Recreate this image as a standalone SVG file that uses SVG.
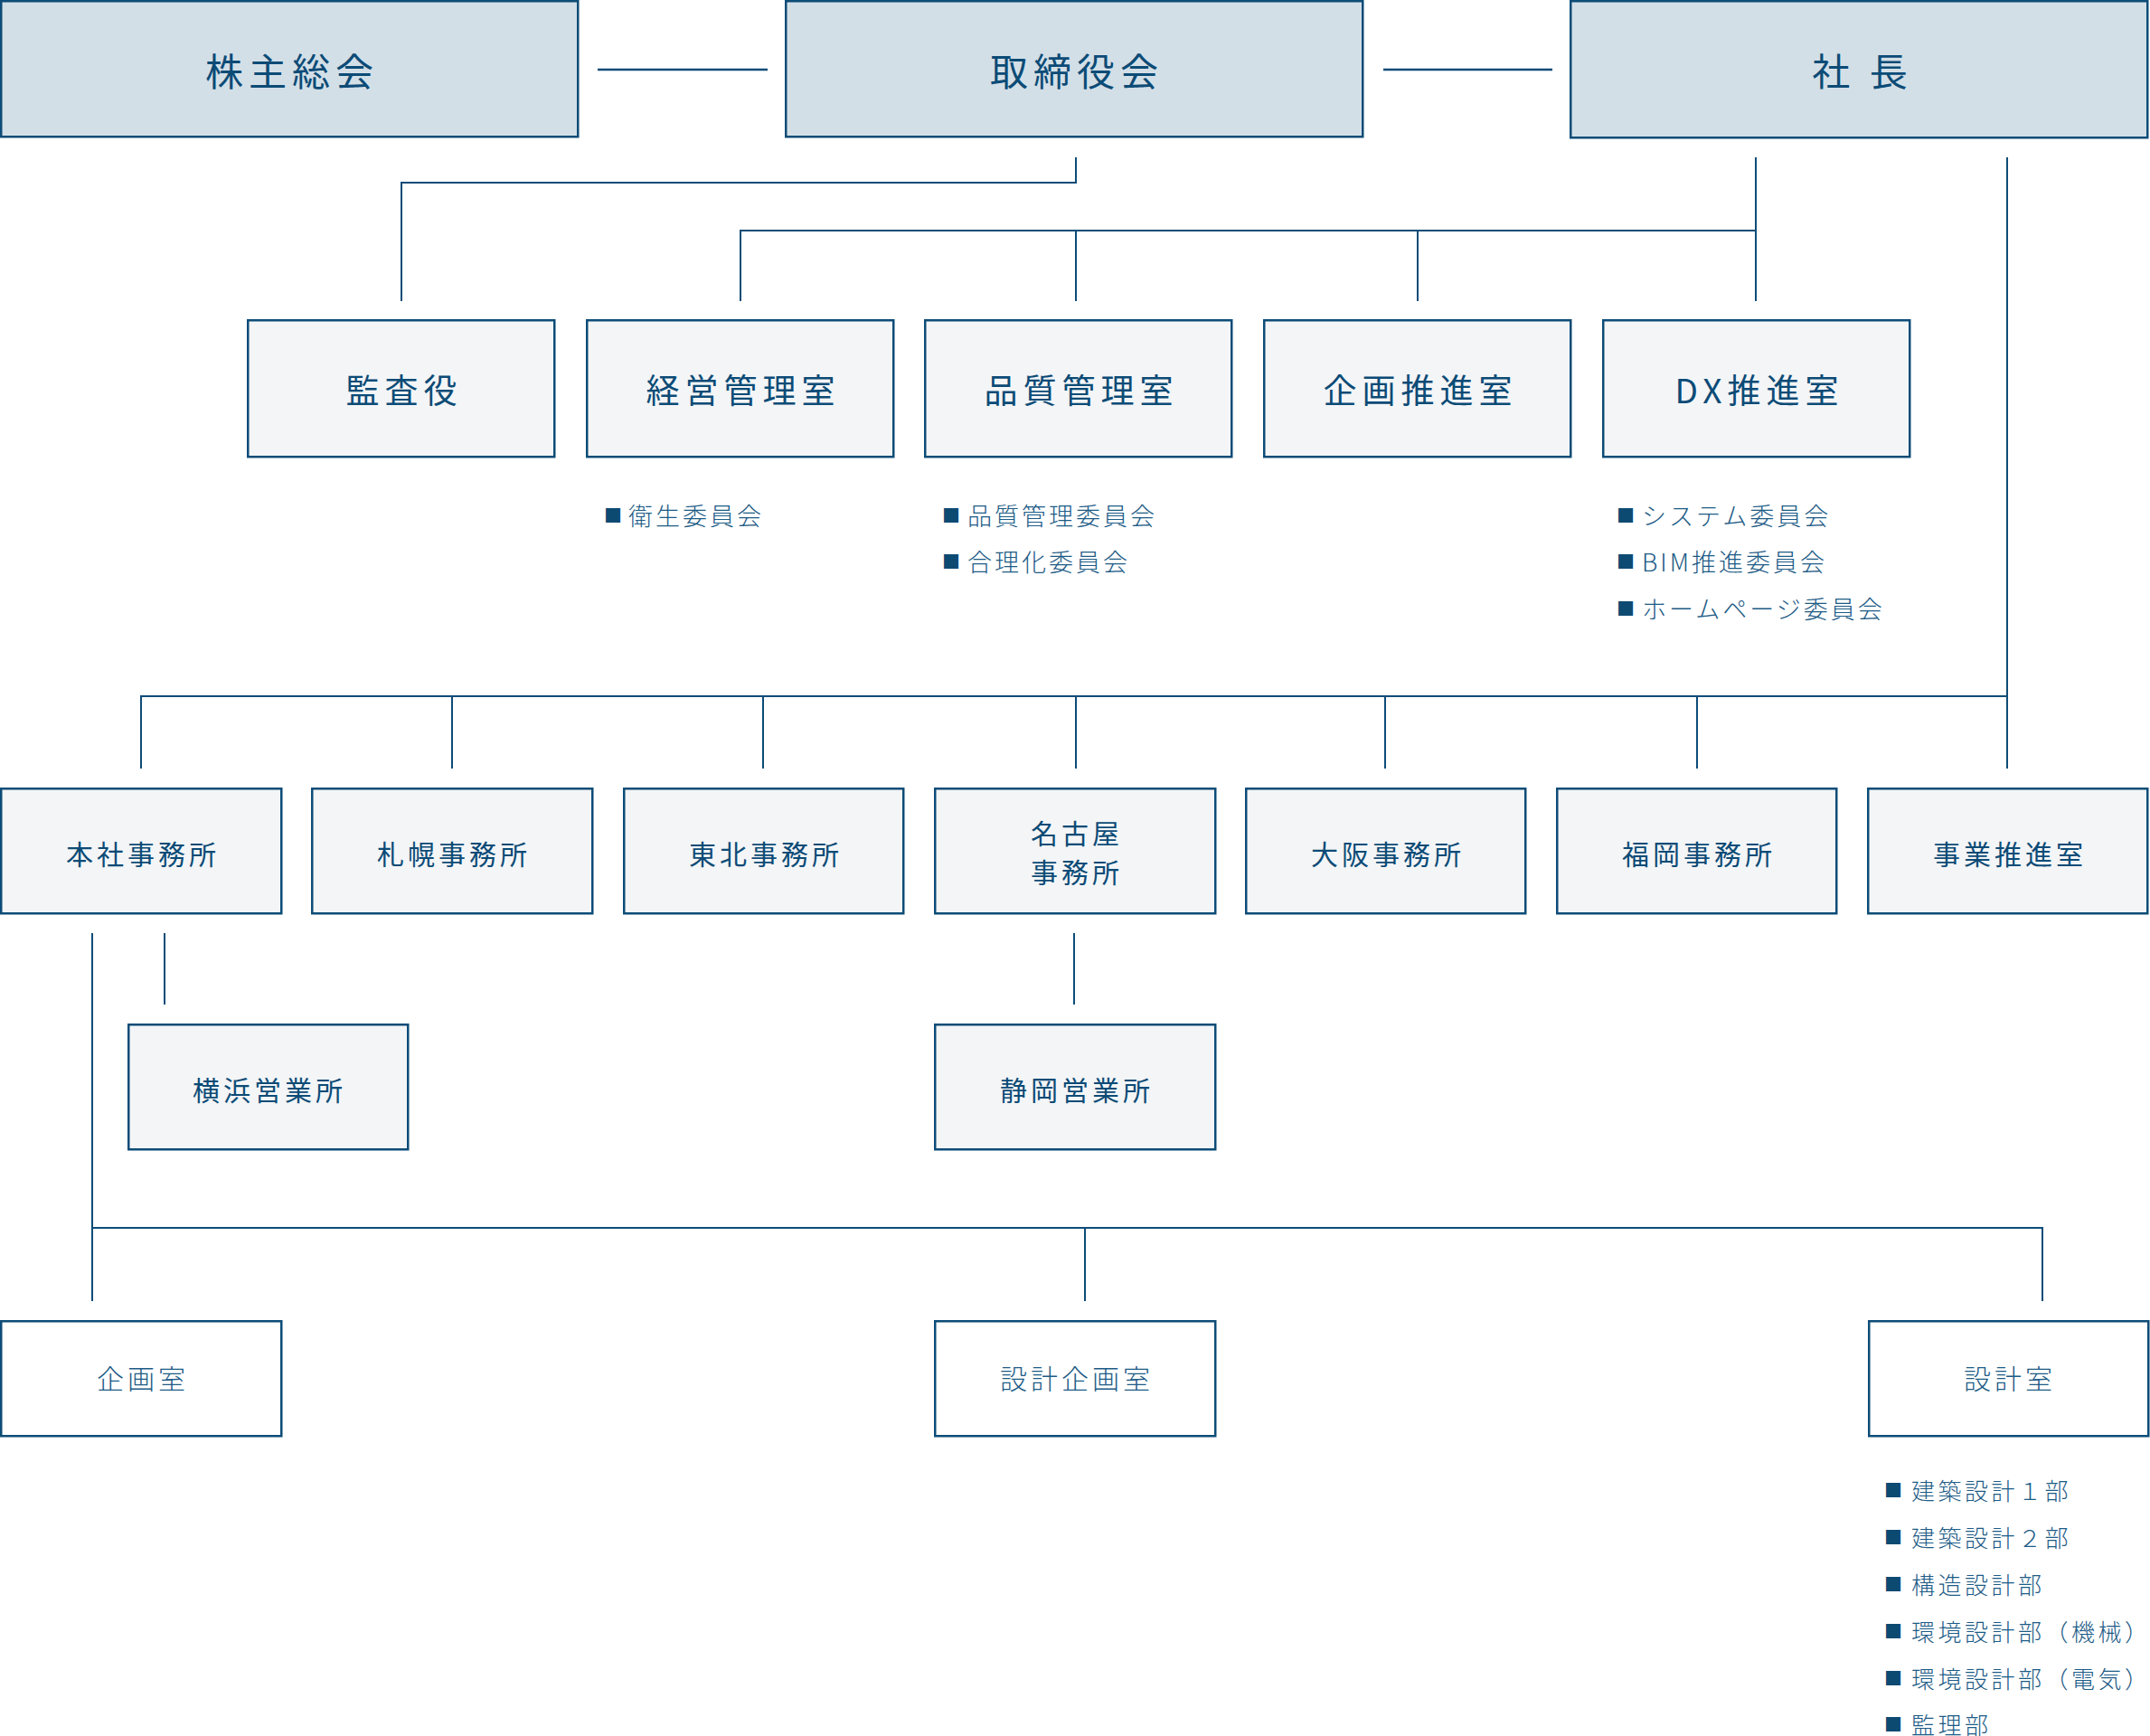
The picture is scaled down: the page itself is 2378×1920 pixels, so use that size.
<svg xmlns="http://www.w3.org/2000/svg" width="2378" height="1920" viewBox="0 0 2378 1920">
<style>
text{font-family:"Noto Sans CJK JP","Noto Sans",sans-serif;dominant-baseline:central;}
.top rect{fill:#d3dfe7;stroke:#0d4c77;stroke-width:2.5;}
.mid rect{fill:#f3f5f7;stroke:#0d4c77;stroke-width:2.5;}
.low rect{fill:#ffffff;stroke:#0d4c77;stroke-width:2.5;}
.t1{font-size:42px;letter-spacing:6px;fill:#0c4b76;text-anchor:middle;font-weight:400;}
.t2{font-size:37px;letter-spacing:6px;fill:#0c4b76;text-anchor:middle;font-weight:400;}
.t3{font-size:30px;letter-spacing:4px;fill:#0c4b76;text-anchor:middle;font-weight:400;}
.t4{font-size:30px;letter-spacing:4px;fill:#1d5b86;text-anchor:middle;font-weight:300;}
.sub{font-size:27px;letter-spacing:3px;fill:#1d5b86;font-weight:300;}
.sub2{font-size:26px;letter-spacing:3.5px;fill:#1d5b86;font-weight:300;}
.b{fill:#0d4a72;font-size:20px;letter-spacing:0;}
.e{letter-spacing:0;}
#connectors path{fill:none;stroke:#0d4c77;stroke-width:2;}
#connectors path.thick{stroke-width:2.5;}
</style>

<g id="connectors">
<path class="thick" d="M661 77H849"/>
<path class="thick" d="M1530 77H1717"/>
<path d="M1190 174V202H444V333"/>
<path d="M1942 174V333M1942 255H819V333M1190 255V333M1568 255V333"/>
<path d="M2220 174V850M2220 770H156V850M500 770V850M844 770V850M1190 770V850M1532 770V850M1877 770V850"/>
<path d="M182 1032V1111M1188 1032V1111"/>
<path d="M102 1032V1439M102 1358H2259V1439M1200 1358V1439"/>
</g>

<g id="n-kabunushi" class="top"><rect x="1.25" y="1.25" width="638" height="150"/><text class="t1" x="323" y="76">株主総会</text></g>
<g id="n-torishimariyaku" class="top"><rect x="869.25" y="1.25" width="638" height="150"/><text class="t1" x="1191" y="76">取締役会</text></g>
<g id="n-shacho" class="top"><rect x="1737.25" y="1.25" width="638" height="151"/><text class="t1" x="2060" y="76">社 長</text></g>

<g id="n-kansayaku" class="mid"><rect x="274.25" y="354.25" width="339" height="151"/><text class="t2" x="447" y="430">監査役</text></g>
<g id="n-keiei" class="mid"><rect x="649.25" y="354.25" width="339" height="151"/><text class="t2" x="822" y="430">経営管理室</text></g>
<g id="n-hinshitsu" class="mid"><rect x="1023.25" y="354.25" width="339" height="151"/><text class="t2" x="1196" y="430">品質管理室</text></g>
<g id="n-kikaku-suishin" class="mid"><rect x="1398.25" y="354.25" width="339" height="151"/><text class="t2" x="1571" y="430">企画推進室</text></g>
<g id="n-dx" class="mid"><rect x="1773.25" y="354.25" width="339" height="151"/><text class="t2" x="1946" y="430">DX推進室</text></g>

<g id="sub-keiei"><text class="sub" x="668" y="569"><tspan class="b">■</tspan><tspan x="695">衛生委員会</tspan></text></g>
<g id="sub-hinshitsu">
<text class="sub" x="1042" y="569"><tspan class="b">■</tspan><tspan x="1070">品質管理委員会</tspan></text>
<text class="sub" x="1042" y="620"><tspan class="b">■</tspan><tspan x="1070">合理化委員会</tspan></text>
</g>
<g id="sub-dx">
<text class="sub" x="1788" y="569"><tspan class="b">■</tspan><tspan x="1816">システム委員会</tspan></text>
<text class="sub" x="1788" y="620"><tspan class="b">■</tspan><tspan x="1816">BIM推進委員会</tspan></text>
<text class="sub" x="1788" y="672"><tspan class="b">■</tspan><tspan x="1816">ホームページ委員会</tspan></text>
</g>

<g id="n-honsha" class="mid"><rect x="1.25" y="872.25" width="310" height="138"/><text class="t3" x="158" y="943">本社事務所</text></g>
<g id="n-sapporo" class="mid"><rect x="345.25" y="872.25" width="310" height="138"/><text class="t3" x="502" y="943">札幌事務所</text></g>
<g id="n-tohoku" class="mid"><rect x="690.25" y="872.25" width="309" height="138"/><text class="t3" x="847" y="943">東北事務所</text></g>
<g id="n-nagoya" class="mid"><rect x="1034.25" y="872.25" width="310" height="138"/><text class="t3" x="1191" y="920">名古屋</text><text class="t3" x="1191" y="963">事務所</text></g>
<g id="n-osaka" class="mid"><rect x="1378.25" y="872.25" width="309" height="138"/><text class="t3" x="1535" y="943">大阪事務所</text></g>
<g id="n-fukuoka" class="mid"><rect x="1722.25" y="872.25" width="309" height="138"/><text class="t3" x="1879" y="943">福岡事務所</text></g>
<g id="n-jigyo" class="mid"><rect x="2066.25" y="872.25" width="309" height="138"/><text class="t3" x="2223" y="943">事業推進室</text></g>

<g id="n-yokohama" class="mid"><rect x="142.25" y="1133.25" width="309" height="138"/><text class="t3" x="298" y="1204">横浜営業所</text></g>
<g id="n-shizuoka" class="mid"><rect x="1034.25" y="1133.25" width="310" height="138"/><text class="t3" x="1191" y="1204">静岡営業所</text></g>

<g id="n-kikakushitsu" class="low"><rect x="1.25" y="1461.25" width="310" height="127"/><text class="t4" x="158" y="1523">企画室</text></g>
<g id="n-sekkei-kikaku" class="low"><rect x="1034.25" y="1461.25" width="310" height="127"/><text class="t4" x="1191" y="1523">設計企画室</text></g>
<g id="n-sekkeishitsu" class="low"><rect x="2067.25" y="1461.25" width="309" height="127"/><text class="t4" x="2223" y="1523">設計室</text></g>

<g id="sub-sekkei">
<text class="sub2" x="2084" y="1647"><tspan class="b">■</tspan><tspan x="2114">建築設計１</tspan><tspan class="e">部</tspan></text>
<text class="sub2" x="2084" y="1699"><tspan class="b">■</tspan><tspan x="2114">建築設計２</tspan><tspan class="e">部</tspan></text>
<text class="sub2" x="2084" y="1751"><tspan class="b">■</tspan><tspan x="2114">構造設計</tspan><tspan class="e">部</tspan></text>
<text class="sub2" x="2084" y="1803"><tspan class="b">■</tspan><tspan x="2114">環境設計部（機械</tspan><tspan class="e">）</tspan></text>
<text class="sub2" x="2084" y="1855"><tspan class="b">■</tspan><tspan x="2114">環境設計部（電気</tspan><tspan class="e">）</tspan></text>
<text class="sub2" x="2084" y="1906"><tspan class="b">■</tspan><tspan x="2114">監理</tspan><tspan class="e">部</tspan></text>
</g>
</svg>
